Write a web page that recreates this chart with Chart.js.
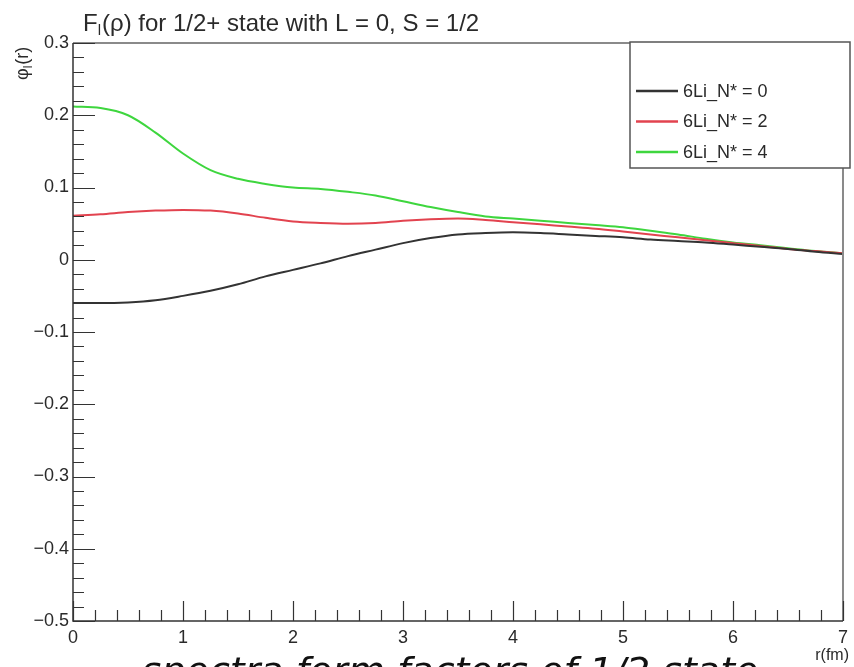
<!DOCTYPE html>
<html>
<head>
<meta charset="utf-8">
<script src="https://cdn.jsdelivr.net/npm/chart.js@4/dist/chart.umd.min.js"></script>
<style>
  html, body { margin: 0; padding: 0; background: #fff; overflow: hidden; }
  #plot { display: block; }
</style>
</head>
<body>
<canvas id="plot" width="854" height="667"></canvas>
<script>
// r (fm) sample points
const rValues = [0, 0.25, 0.5, 0.75, 1, 1.25, 1.5, 1.75, 2, 2.25, 2.5, 2.75, 3, 3.25, 3.5,
                 3.75, 4, 4.25, 4.5, 4.75, 5, 5.25, 5.5, 5.75, 6, 6.25, 6.5, 6.75, 7];

// phi_l(r)
const phiN0 = [-0.060, -0.060, -0.059, -0.056, -0.050, -0.043, -0.034, -0.023, -0.014, -0.005, 0.005, 0.014,
               0.023, 0.030, 0.035, 0.037, 0.038, 0.037, 0.035, 0.033, 0.031, 0.028, 0.026, 0.024,
               0.021, 0.018, 0.015, 0.011, 0.008];
const phiN2 = [0.061, 0.063, 0.066, 0.068, 0.069, 0.068, 0.064, 0.058, 0.053, 0.051, 0.050, 0.051,
               0.054, 0.056, 0.057, 0.055, 0.052, 0.049, 0.046, 0.043, 0.039, 0.035, 0.031, 0.027,
               0.023, 0.019, 0.015, 0.012, 0.009];
const phiN4 = [0.212, 0.210, 0.200, 0.176, 0.147, 0.124, 0.112, 0.105, 0.100, 0.098, 0.094, 0.089,
               0.081, 0.073, 0.066, 0.060, 0.057, 0.054, 0.051, 0.048, 0.045, 0.040, 0.035, 0.029,
               0.024, 0.020, 0.016, 0.012, 0.009];

const seriesLabels = ['6Li_N* = 0', '6Li_N* = 2', '6Li_N* = 4'];
const seriesColors = ['#333333', '#e2434f', '#3ed63e'];

const yRange = [-0.5, 0.3];
const xRange = [0, 7];

const FONT = '"Liberation Sans", Arial, sans-serif';
const INK = '#2a2a2a';

function points(ys) {
    return rValues.map((r, i) => ({ x: r, y: ys[i] }));
}

function fmtY(v) {
    if (Math.abs(v) < 1e-9) return '0';
    return (v < 0 ? '\u2212' : '') + Math.abs(v).toFixed(1);
}

// draws the ROOT style frame, inward ticks, legend, titles
const rootFrame = {
    id: 'rootFrame',
    afterDraw(chart) {
        const ctx = chart.ctx;
        const a = chart.chartArea;
        const xs = chart.scales.x;
        const ys = chart.scales.y;
        ctx.save();

        // frame
        ctx.strokeStyle = '#8a8a8a';
        ctx.lineWidth = 2;
        ctx.beginPath();
        ctx.moveTo(a.left, a.top);
        ctx.lineTo(a.right, a.top);
        ctx.lineTo(a.right, a.bottom);
        ctx.stroke();
        ctx.strokeStyle = '#333';
        ctx.lineWidth = 1.5;
        ctx.beginPath();
        ctx.moveTo(a.left, a.top);
        ctx.lineTo(a.left, a.bottom);
        ctx.lineTo(a.right, a.bottom);
        ctx.stroke();

        // y ticks, minor every 0.02
        ctx.lineWidth = 1.2;
        ctx.beginPath();
        for (let i = 0; i <= 40; i++) {
            const v = yRange[0] + i * 0.02;
            const py = Math.round(ys.getPixelForValue(v)) + 0.5;
            const len = i % 5 === 0 ? 22 : 11;
            ctx.moveTo(a.left, py);
            ctx.lineTo(a.left + len, py);
        }
        // x ticks, minor every 0.2
        for (let i = 0; i <= 35; i++) {
            const v = xRange[0] + i * 0.2;
            const px = Math.round(xs.getPixelForValue(v)) + 0.5;
            const len = i % 5 === 0 ? 20 : 11;
            ctx.moveTo(px, a.bottom);
            ctx.lineTo(px, a.bottom - len);
        }
        ctx.stroke();

        // legend box
        const lx = 630, ly = 42, lw = 220, lh = 126;
        ctx.fillStyle = '#fff';
        ctx.fillRect(lx, ly, lw, lh);
        ctx.strokeStyle = '#555';
        ctx.lineWidth = 1.5;
        ctx.strokeRect(lx, ly, lw, lh);
        ctx.font = '18px ' + FONT;
        ctx.textBaseline = 'middle';
        ctx.textAlign = 'left';
        chart.data.datasets.forEach((ds, i) => {
            const rowY = 91 + i * 30.5;
            ctx.strokeStyle = ds.borderColor;
            ctx.lineWidth = 2.5;
            ctx.beginPath();
            ctx.moveTo(636, rowY);
            ctx.lineTo(678, rowY);
            ctx.stroke();
            ctx.fillStyle = INK;
            ctx.fillText(ds.label, 683, rowY + 1);
        });

        // main title with subscript
        ctx.fillStyle = INK;
        ctx.textBaseline = 'alphabetic';
        ctx.font = '24px ' + FONT;
        let tx = 83;
        const tb = 31;
        ctx.fillText('F', tx, tb);
        tx += ctx.measureText('F').width;
        ctx.font = '15px ' + FONT;
        ctx.fillText('l', tx, tb + 4);
        tx += ctx.measureText('l').width + 1;
        ctx.font = '24px ' + FONT;
        ctx.fillText('(\u03c1) for 1/2+ state with L = 0, S = 1/2', tx, tb);

        // y axis title, rotated
        ctx.save();
        ctx.translate(28, 80);
        ctx.rotate(-Math.PI / 2);
        ctx.font = '18px ' + FONT;
        let yx = 0;
        ctx.fillText('\u03c6', yx, 0);
        yx += ctx.measureText('\u03c6').width;
        ctx.font = '12px ' + FONT;
        ctx.fillText('l', yx, 4);
        yx += ctx.measureText('l').width + 1;
        ctx.font = '18px ' + FONT;
        ctx.fillText('(r)', yx, 0);
        ctx.restore();

        // x axis title
        ctx.font = '16px ' + FONT;
        ctx.textAlign = 'right';
        ctx.fillText('r(fm)', 849, 660);

        // clipped caption at the very bottom
        ctx.font = 'italic 38px "DejaVu Sans", sans-serif';
        ctx.textAlign = 'center';
        ctx.fillStyle = '#111';
        ctx.fillText('spectra form factors of 1/2 state', 450, 684);

        ctx.restore();
    }
};

const datasets = [phiN0, phiN2, phiN4].map((ys, i) => ({
    label: seriesLabels[i],
    data: points(ys),
    borderColor: seriesColors[i],
    backgroundColor: seriesColors[i],
    borderWidth: 2,
    pointRadius: 0,
    fill: false,
    cubicInterpolationMode: 'monotone'
}));

new Chart(document.getElementById('plot').getContext('2d'), {
    type: 'line',
    data: { datasets: datasets },
    options: {
        responsive: false,
        animation: false,
        layout: { padding: { top: 43, right: 6, left: 0, bottom: 0 } },
        plugins: {
            legend: { display: false },
            title: { display: false },
            tooltip: { enabled: false }
        },
        scales: {
            x: {
                type: 'linear',
                min: xRange[0],
                max: xRange[1],
                grid: { display: false, drawTicks: false },
                border: { display: false },
                ticks: {
                    stepSize: 1,
                    padding: 6,
                    color: INK,
                    font: { family: FONT, size: 18 },
                    maxRotation: 0
                },
                afterFit: s => { s.height = 46; }
            },
            y: {
                min: yRange[0],
                max: yRange[1],
                grid: { display: false, drawTicks: false },
                border: { display: false },
                ticks: {
                    stepSize: 0.1,
                    padding: 4,
                    color: INK,
                    font: { family: FONT, size: 18 },
                    callback: v => fmtY(v)
                },
                afterFit: s => { s.width = 73; }
            }
        }
    },
    plugins: [rootFrame]
});
</script>
</body>
</html>
